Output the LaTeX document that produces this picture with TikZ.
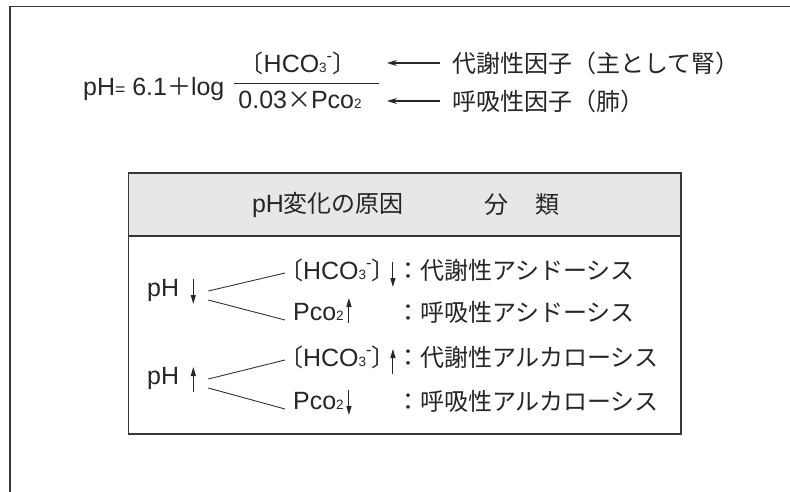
\documentclass[tikz,border=0pt]{standalone}
\usepackage{fontspec}
\setmainfont{Liberation Sans}[Scale=1.04]
\newfontfamily\jp{Noto Sans CJK JP}
\usepackage{xcolor}
\usetikzlibrary{calc}
\usetikzlibrary{arrows.meta,positioning}
\definecolor{framegray}{RGB}{55,55,55}
\definecolor{headgray}{RGB}{230,231,232}
\newcommand{\tinysub}[1]{{\fontsize{13}{13}\selectfont #1}}
\newcommand{\hco}{{\jp 〔}HCO\tinysub{3}\raisebox{11pt}{\fontsize{16}{16}\selectfont -}{\jp 〕}}
\newcommand{\pco}{Pco\tinysub{2}}

\begin{document}
\begin{tikzpicture}[x=1pt,y=-1pt,font=\fontsize{24}{28}\selectfont,
	every node/.style={inner sep=0pt,text=black!85},
	boxline/.style={line width=1.4pt,framegray},
	forkline/.style={line width=0.9pt,black!80},
	leftarr/.style={line width=1.1pt,black!85,-{Stealth[length=10pt,width=6pt]}},
	vertarr/.style={line width=1pt,black!85,-{Triangle[length=9pt,width=5pt]}}]
	\useasboundingbox (0,0) rectangle (790,492);
	\draw[line width=1.3pt,framegray] (10,492) -- (10,6.5) -- (790,6.5);
	% formula
	\node[anchor=base west] (lhs) at (83,96) {pH{\fontsize{17}{17}\selectfont=} 6.1{\jp ＋}log};
	\node[anchor=base] (num) at (298,73) {\hco};
	\node[anchor=base] (den) at (300,109) {0.03{\jp ×}\pco};
	\draw[line width=1pt,black!85] (234,84) -- (379,84);
	\node[anchor=west] (metab) at (452,63) {\jp 代謝性因子（主として腎）};
	\node[anchor=west] (resp) at (452,101) {\jp 呼吸性因子（肺）};
	\coordinate (tip1) at (387,63);
	\coordinate (tip2) at (387,101);
	\draw[leftarr] ($(metab.west)+(-12,0)$) -- (tip1);
	\draw[leftarr] ($(resp.west)+(-12,0)$) -- (tip2);
	% table
	\fill[headgray] (128.5,173) rectangle (681,236);
	\draw[boxline] (128.5,173) rectangle (681,434);
	\draw[boxline] (128.5,236) -- (681,236);
	\node (cause) at (328,205) {pH{\jp 変化の原因}};
	\node (group) at (522,205) {{\jp 分}\hspace{27pt}{\jp 類}};
	% acidosis
	\node[anchor=west] (ph1) at (147,291) {pH};
	\node[anchor=west] (hco1) at (279,270) {\hco};
	\node[anchor=west] (pco1) at (293,312) {\pco};
	\node[anchor=west] (cls1) at (396,270) {\jp ：代謝性アシドーシス};
	\node[anchor=west] (cls2) at (396,312) {\jp ：呼吸性アシドーシス};
	\draw[vertarr] ($(ph1.east)+(14,-12)$) -- ++(0,25);
	\draw[vertarr] ($(hco1.east)+(-3,-8)$) -- ++(0,25);
	\draw[vertarr] ($(pco1.east)+(5,11)$) -- ++(0,-25);
	\draw[forkline] ($(ph1.east)+(29,0)$) -- ($(hco1.west)+(6,3)$);
	\draw[forkline] ($(ph1.east)+(29,9)$) -- ($(pco1.west)+(-8,8)$);
	% alkalosis
	\node[anchor=west] (ph2) at (147,379) {pH};
	\node[anchor=west] (hco2) at (279,357) {\hco};
	\node[anchor=west] (pco2) at (293,401) {\pco};
	\node[anchor=west] (cls3) at (396,357) {\jp ：代謝性アルカローシス};
	\node[anchor=west] (cls4) at (396,401) {\jp ：呼吸性アルカローシス};
	\draw[vertarr] ($(ph2.east)+(14,13)$) -- ++(0,-25);
	\draw[vertarr] ($(hco2.east)+(-3,17)$) -- ++(0,-25);
	\draw[vertarr] ($(pco2.east)+(5,-11)$) -- ++(0,25);
	\draw[forkline] ($(ph2.east)+(29,0)$) -- ($(hco2.west)+(6,3)$);
	\draw[forkline] ($(ph2.east)+(29,9)$) -- ($(pco2.west)+(-8,8)$);
\end{tikzpicture}
\end{document}
